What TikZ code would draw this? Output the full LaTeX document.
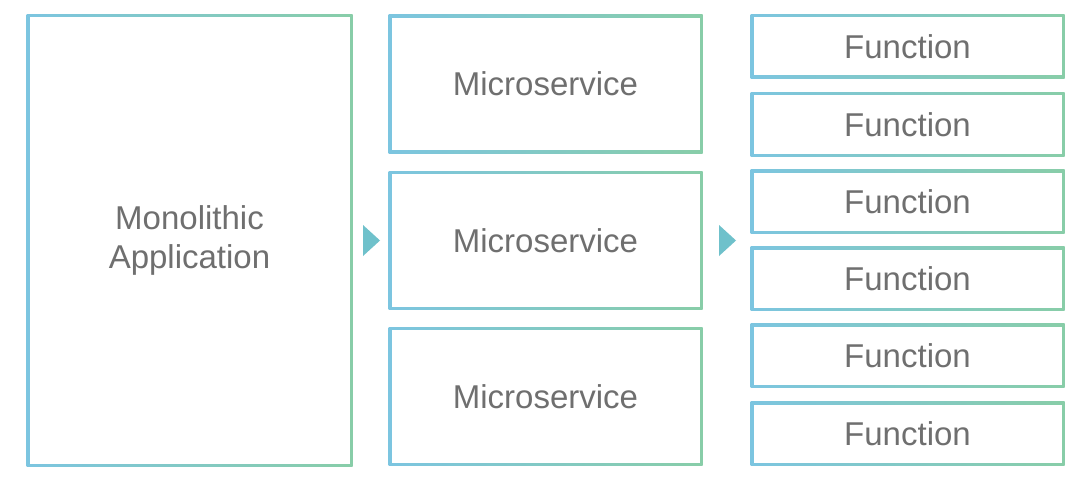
\documentclass[tikz,border=0pt]{standalone}
\usepackage{fontspec}
\setmainfont{Liberation Sans}
\usetikzlibrary{backgrounds,calc}
\definecolor{cblue}{HTML}{7CC5E0}
\definecolor{cgreen}{HTML}{88CDA8}
\definecolor{ctri}{HTML}{6FC1CB}
\definecolor{ctext}{HTML}{6F6F6F}
\tikzset{
  box/.style={inner sep=0pt, outer sep=0pt, align=center, text=ctext,
    font=\fontsize{16.5}{19.5}\selectfont},
  mono/.style={box, minimum width=161.5pt, minimum height=224.5pt},
  msbox/.style={box, minimum width=155.5pt, minimum height=67.75pt},
  fnbox/.style={box, minimum width=155.5pt, minimum height=30.5pt},
  tri/.style={fill=ctri, draw=none}
}
\begin{document}
\begin{tikzpicture}[x=0.5pt,y=-0.5pt]
\useasboundingbox (0,0) rectangle (1080,481);
\node[mono] (mono) at (189.5,240.5) {Monolithic\\Application};
\node[msbox] (ms1) at (545.5,84) {Microservice};
\node[msbox] (ms2) at (545.5,240.5) {Microservice};
\node[msbox] (ms3) at (545.5,396.5) {Microservice};
\node[fnbox] (f1) at (907.5,46.5) {Function};
\node[fnbox] (f2) at (907.5,124.5) {Function};
\node[fnbox] (f3) at (907.5,201.5) {Function};
\node[fnbox] (f4) at (907.5,278.5) {Function};
\node[fnbox] (f5) at (907.5,355.5) {Function};
\node[fnbox] (f6) at (907.5,433.5) {Function};
\begin{scope}[on background layer]
\fill[white] (0,0) rectangle (1080,481);
\foreach \n in {mono,ms1,ms2,ms3,f1,f2,f3,f4,f5,f6}{
  \shade[left color=cblue, right color=cgreen]
    ([shift={(-0.75pt,-0.75pt)}]\n.south west) rectangle ([shift={(0.75pt,0.75pt)}]\n.north east);
  \fill[white]
    ([shift={(0.75pt,0.75pt)}]\n.south west) rectangle ([shift={(-0.75pt,-0.75pt)}]\n.north east);
}
\end{scope}
\fill[tri] ($(mono.east)+(12,-15.5)$) -- ($(mono.east)+(29,0)$) -- ($(mono.east)+(12,15.5)$) -- cycle;
\fill[tri] ($(ms2.east)+(18,-15.5)$) -- ($(ms2.east)+(35,0)$) -- ($(ms2.east)+(18,15.5)$) -- cycle;
\end{tikzpicture}
\end{document}
